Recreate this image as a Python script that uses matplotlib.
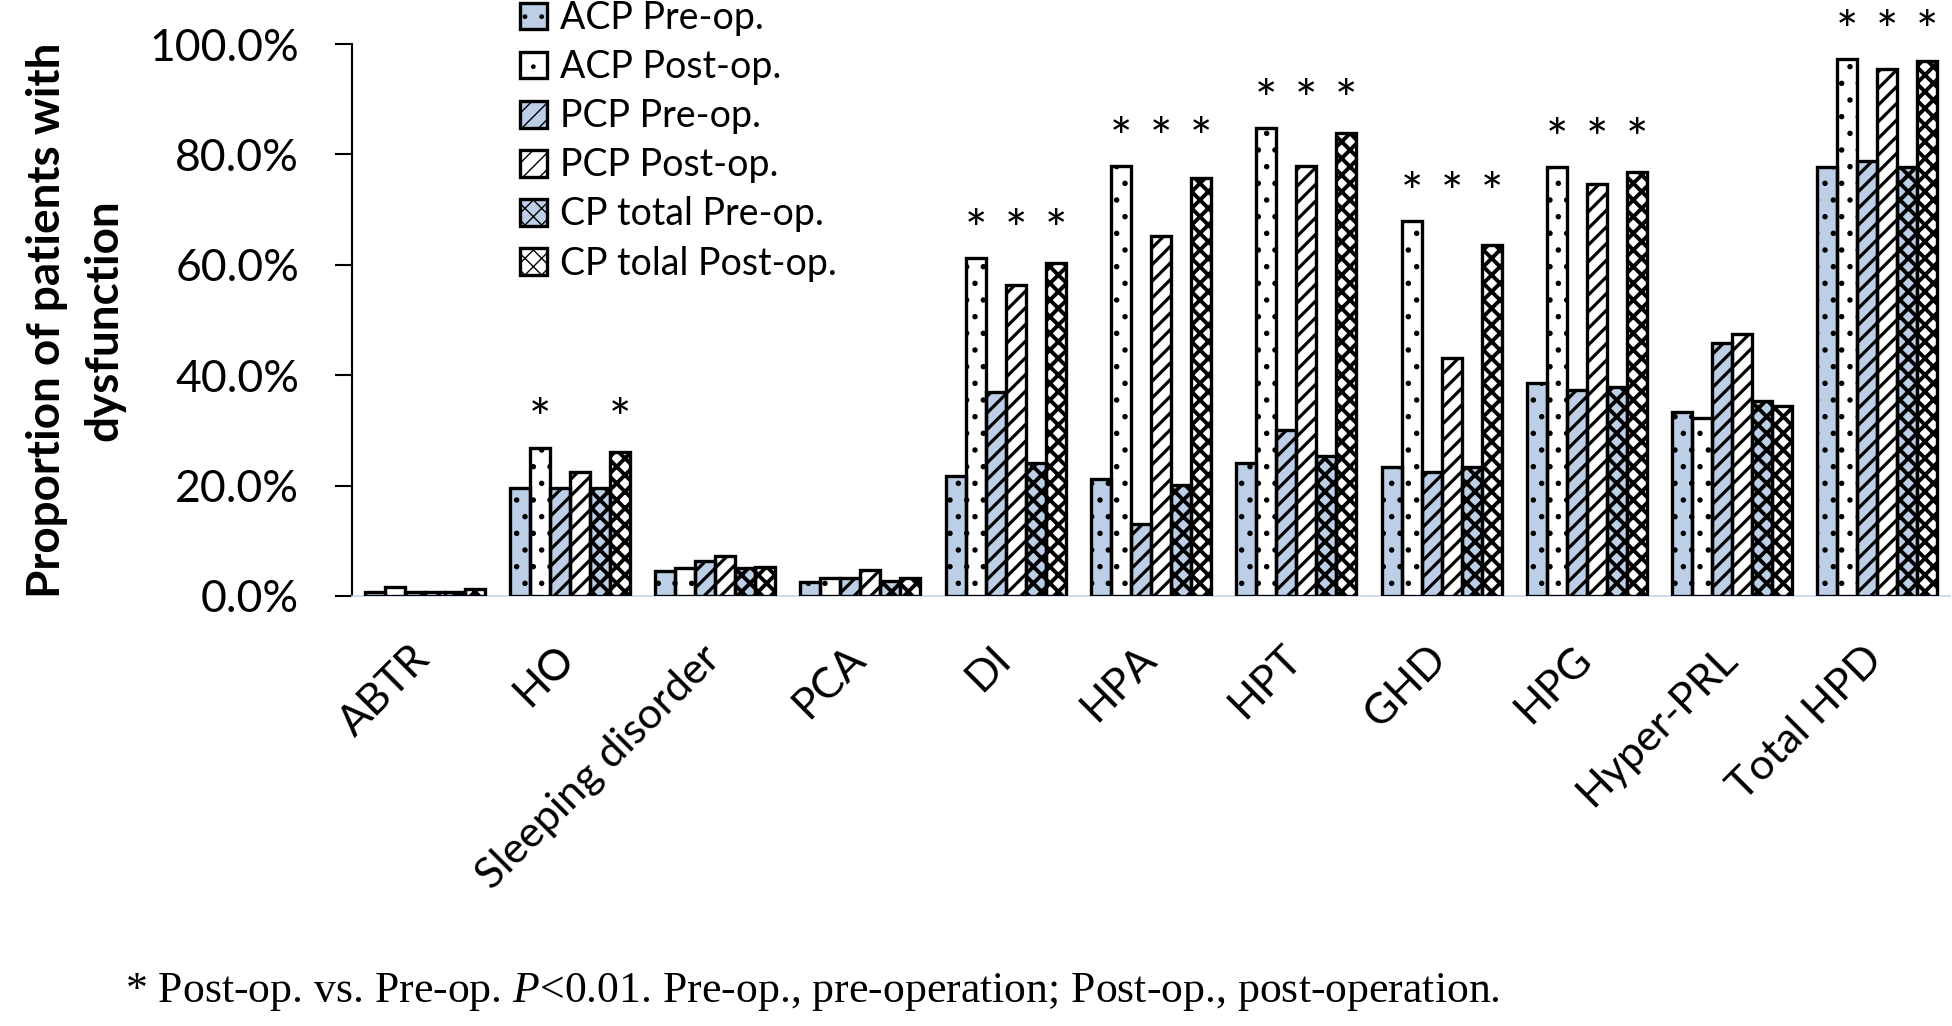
import matplotlib
matplotlib.use("Agg")
import numpy as np
from matplotlib import pyplot as plt
from matplotlib import transforms
from matplotlib.ticker import PercentFormatter

categories = ["ABTR", "HO", "Sleeping disorder", "PCA", "DI", "HPA", "HPT",
              "GHD", "HPG", "Hyper-PRL", "Total HPD"]
series_names = ["ACP Pre-op.", "ACP Post-op.", "PCP Pre-op.", "PCP Post-op.",
                "CP total Pre-op.", "CP tolal Post-op."]

# proportion of patients with dysfunction, %
acp_pre = [0.8, 19.6, 4.5, 2.5, 21.8, 21.2, 24.1, 23.4, 38.5, 33.4, 77.7]
acp_post = [1.6, 26.9, 5.0, 3.3, 61.2, 77.9, 84.8, 67.9, 77.7, 32.3, 97.3]
pcp_pre = [0.8, 19.6, 6.3, 3.3, 37.0, 13.1, 30.1, 22.5, 37.4, 45.9, 78.8]
pcp_post = [0.8, 22.5, 7.2, 4.8, 56.3, 65.2, 77.9, 43.2, 74.6, 47.4, 95.5]
cp_pre = [0.8, 19.6, 5.0, 2.8, 24.1, 20.1, 25.4, 23.4, 37.9, 35.4, 77.7]
cp_post = [1.3, 26.1, 5.2, 3.3, 60.4, 75.7, 83.8, 63.5, 76.8, 34.5, 96.9]

# groups with a significant post-op vs pre-op difference
star_acp = ["HO", "DI", "HPA", "HPT", "GHD", "HPG", "Total HPD"]
star_pcp = ["DI", "HPA", "HPT", "GHD", "HPG", "Total HPD"]
star_cp = ["HO", "DI", "HPA", "HPT", "GHD", "HPG", "Total HPD"]

footnote = r"* Post-op. vs. Pre-op. $\it{P}$<0.01. Pre-op., pre-operation; Post-op., post-operation."

plt.rcParams["font.family"] = ["Lato", "DejaVu Sans"]
plt.rcParams["mathtext.fontset"] = "custom"
plt.rcParams["mathtext.rm"] = "Liberation Serif"
plt.rcParams["mathtext.it"] = "Liberation Serif:italic"

lblue = "#bccfe6"
# facecolor, hatch, hatch colour, hatch line width
styles = [
    (lblue, ".", "black", 1.5),
    ("white", ".", "black", 1.5),
    (lblue, "//", "black", 2.3),
    ("white", "//", "black", 2.3),
    (lblue, "xx", "black", 2.8),
    ("white", "xx", "black", 2.8),
]
all_values = [acp_pre, acp_post, pcp_pre, pcp_post, cp_pre, cp_post]

fig = plt.figure(figsize=(19.52, 10.26), dpi=100)
ax = fig.add_axes([352 / 1952, 430 / 1026, 1598 / 1952, 552 / 1026])

x = np.arange(len(categories))
w = 0.1376
handles = []
for k, (vals, (fc, hatch, hc, hlw)) in enumerate(zip(all_values, styles)):
    pos = x + (k - 2.5) * w
    b1 = ax.bar(pos, vals, w, color=fc, linewidth=0, zorder=2)
    with plt.rc_context({"hatch.linewidth": hlw}):
        b2 = ax.bar(pos, vals, w, facecolor="none", edgecolor=hc, hatch=hatch,
                    linewidth=0, zorder=3)
    for p in b2:
        if hasattr(p, "set_hatch_linewidth"):
            p.set_hatch_linewidth(hlw)
    b3 = ax.bar(pos, vals, w, fill=False, edgecolor="black", linewidth=2.4,
                zorder=4)
    handles.append((b1[0], b2[0], b3[0]))

# significance stars above post-op bars
for k, (post, flagged) in enumerate([(acp_post, star_acp), (pcp_post, star_pcp),
                                     (cp_post, star_cp)]):
    for name in flagged:
        i = categories.index(name)
        level = max(acp_post[i], pcp_post[i], cp_post[i]) + 4.5
        ax.text(x[i] + (2 * k + 1 - 2.5) * w, level, "*", ha="center",
                va="center", fontsize=38, clip_on=False, zorder=5)

ax.set_xlim(-0.5, len(categories) - 0.5)
ax.set_ylim(0, 100)
ax.set_yticks(np.arange(0, 101, 20))
ax.yaxis.set_major_formatter(PercentFormatter(xmax=100, decimals=1))
ax.tick_params(axis="y", labelsize=32, length=12, width=1.5, pad=26)
ax.set_xticks(x)
ax.set_xticklabels(categories, rotation=45, ha="right", va="top", fontsize=31)
ax.tick_params(axis="x", length=0, pad=31)
shift = transforms.ScaledTranslation(0.12, 0, fig.dpi_scale_trans)
for lab in ax.get_xticklabels():
    lab.set_transform(lab.get_transform() + shift)

for s in ["top", "right"]:
    ax.spines[s].set_visible(False)
ax.spines["left"].set_linewidth(1.5)
ax.spines["bottom"].set_color("#c5d5ea")
ax.spines["bottom"].set_linewidth(1.2)

ax.set_ylabel("Proportion of patients with\ndysfunction", fontsize=33,
              fontweight="bold", linespacing=1.45)
ax.yaxis.set_label_coords(-0.142, 0.5)

fig.legend(handles, series_names, loc="upper left",
           bbox_to_anchor=(520 / 1952, 1.0), frameon=False, fontsize=27,
           borderpad=0, borderaxespad=0, handlelength=0.72, handleheight=0.72,
           handletextpad=0.35, labelspacing=0.35)

fig.text(125 / 1952, 1 - 992 / 1026, footnote, fontsize=31.5,
         family="Liberation Serif", va="center")

fig.savefig("out.png", dpi=100)
